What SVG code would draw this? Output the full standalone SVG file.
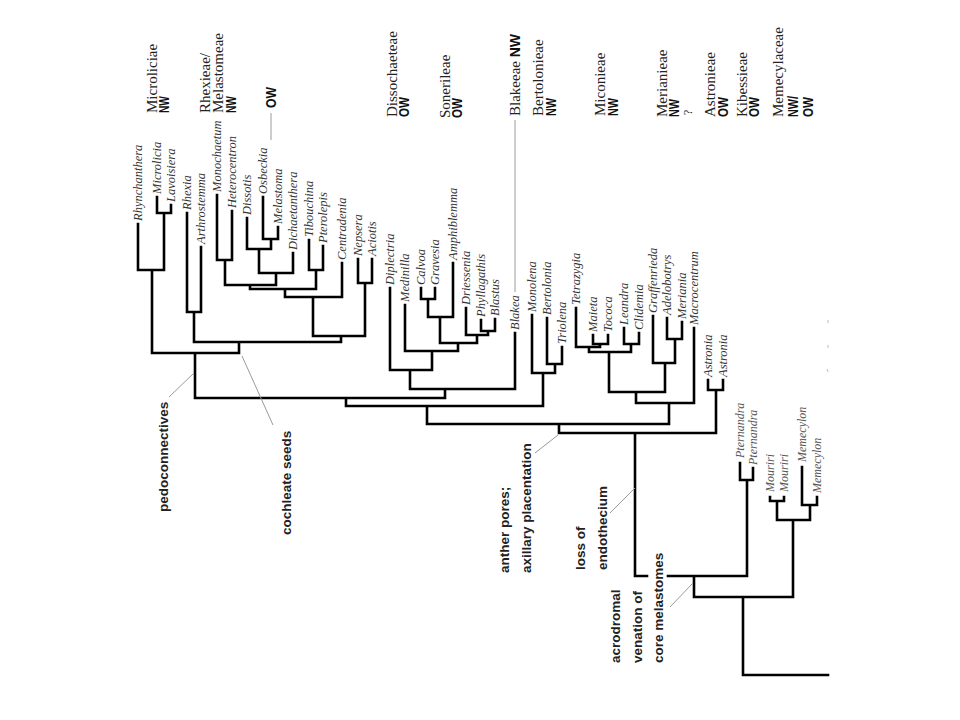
<svg xmlns="http://www.w3.org/2000/svg" width="960" height="720" viewBox="0 0 960 720">
<style>
.br{fill:none;stroke:#000;stroke-width:2.6;stroke-linecap:square;stroke-linejoin:miter}
.an{fill:none;stroke:#9a9a9a;stroke-width:1}
.tx{font-family:"Liberation Serif",serif;font-style:italic;font-size:12.5px;fill:#333}
.sm{font-size:12px;fill:#555}
.tr{font-family:"Liberation Serif",serif;font-size:15px;fill:#222}
.ge{font-family:"Liberation Sans",Arial,sans-serif;font-weight:bold;font-size:14px;fill:#111}
.ch{font-family:"Liberation Sans",Arial,sans-serif;font-weight:bold;font-size:13.5px;fill:#222}
</style>
<rect width="960" height="720" fill="#fff"/>
<g id="connectors">
<path class="br" d="M157 197V213H171V205 M138 224V270H164V213 M187 213V312H201V247 M217 195V260H232V211 M263 197V239H278V227 M247 218V249H271V239 M259 249V273H293V253 M225 260V285H276V273 M309 240V270H323V246 M250 285V289H316V270 M285 289V297H342V263 M358 259V283H372V259 M313 297V336H365V283 M194 312V342H341V336 M152 270V353H239V342 M421 288V299H435V288 M428 299V317H453V263 M481 320V331H495V319 M466 308V335H488V331 M440 317V343H477V335 M405 305V351H458V343 M390 288V370H432V351 M410 370V389H515V333 M195 353V398H445V389 M547 318V364H562V347 M532 315V373H555V364 M346 398V406H543V373 M593 335V344H608V335 M576 308V347H600V344 M624 328V344H639V333 M589 347V352H631V344 M667 318V339H682V322 M653 316V363H675V339 M609 352V392H665V363 M636 392V403H694V328 M427 406V424H669V403 M708 380V390H723V380 M559 424V433H716V390 M740 463V480H753V468 M635 433V576H647 M668 576H747V480 M770 497V501H784V497 M802 467V505H817V497 M777 501V520H810V505 M694 576V597H793V520 M743 597V675H828"/>
<path class="an" d="M515 120V292 M271 113V140 M194 373L169 397 M242 356L273 425 M558 435L535 453 M635 488L610 513 M693 583L670 607"/>
<path fill="none" stroke="#c8c8c8" stroke-width="1.2" d="M828 320v3 M828 345v3 M827 369l1 3"/>
</g>
<g id="taxa">
<g id="t-rhynchanthera"><text class="tx" transform="translate(141.5,221) rotate(-90)">Rhynchanthera</text></g>
<g id="t-microlicia"><text class="tx" transform="translate(160.5,194) rotate(-90)">Microlicia</text></g>
<g id="t-lavoisiera"><text class="tx" transform="translate(174.5,202) rotate(-90)">Lavoisiera</text></g>
<g id="t-rhexia"><text class="tx" transform="translate(190.5,210) rotate(-90)">Rhexia</text></g>
<g id="t-arthrostemma"><text class="tx" transform="translate(204.5,244) rotate(-90)">Arthrostemma</text></g>
<g id="t-monochaetum"><text class="tx" transform="translate(220.5,192) rotate(-90)">Monochaetum</text></g>
<g id="t-heterocentron"><text class="tx" transform="translate(235.5,208) rotate(-90)">Heterocentron</text></g>
<g id="t-dissotis"><text class="tx" transform="translate(250.5,215) rotate(-90)">Dissotis</text></g>
<g id="t-osbeckia"><text class="tx" transform="translate(266.5,194) rotate(-90)">Osbeckia</text></g>
<g id="t-melastoma"><text class="tx" transform="translate(281.5,224) rotate(-90)">Melastoma</text></g>
<g id="t-dichaetanthera"><text class="tx" transform="translate(296.5,250) rotate(-90)">Dichaetanthera</text></g>
<g id="t-tibouchina"><text class="tx" transform="translate(312.5,237) rotate(-90)">Tibouchina</text></g>
<g id="t-pterolepis"><text class="tx" transform="translate(326.5,243) rotate(-90)">Pterolepis</text></g>
<g id="t-centradenia"><text class="tx" transform="translate(345.5,260) rotate(-90)">Centradenia</text></g>
<g id="t-nepsera"><text class="tx" transform="translate(361.5,256) rotate(-90)">Nepsera</text></g>
<g id="t-aciotis"><text class="tx" transform="translate(375.5,256) rotate(-90)">Aciotis</text></g>
<g id="t-diplectria"><text class="tx" transform="translate(393.5,285) rotate(-90)">Diplectria</text></g>
<g id="t-medinilla"><text class="tx" transform="translate(408.5,302) rotate(-90)">Medinilla</text></g>
<g id="t-calvoa"><text class="tx" transform="translate(424.5,285) rotate(-90)">Calvoa</text></g>
<g id="t-gravesia"><text class="tx" transform="translate(438.5,285) rotate(-90)">Gravesia</text></g>
<g id="t-amphiblemma"><text class="tx" transform="translate(456.5,260) rotate(-90)">Amphiblemma</text></g>
<g id="t-driessenia"><text class="tx" transform="translate(469.5,305) rotate(-90)">Driessenia</text></g>
<g id="t-phyllagathis"><text class="tx" transform="translate(484.5,317) rotate(-90)">Phyllagathis</text></g>
<g id="t-blastus"><text class="tx" transform="translate(498.5,316) rotate(-90)">Blastus</text></g>
<g id="t-blakea"><text class="tx" transform="translate(518.5,330) rotate(-90)">Blakea</text></g>
<g id="t-monolena"><text class="tx" transform="translate(535.5,312) rotate(-90)">Monolena</text></g>
<g id="t-bertolonia"><text class="tx" transform="translate(550.5,315) rotate(-90)">Bertolonia</text></g>
<g id="t-triolena"><text class="tx" transform="translate(565.5,344) rotate(-90)">Triolena</text></g>
<g id="t-tetrazygia"><text class="tx" transform="translate(579.5,305) rotate(-90)">Tetrazygia</text></g>
<g id="t-maieta"><text class="tx" transform="translate(596.5,332) rotate(-90)">Maieta</text></g>
<g id="t-tococa"><text class="tx" transform="translate(611.5,332) rotate(-90)">Tococa</text></g>
<g id="t-leandra"><text class="tx" transform="translate(627.5,325) rotate(-90)">Leandra</text></g>
<g id="t-clidemia"><text class="tx" transform="translate(642.5,330) rotate(-90)">Clidemia</text></g>
<g id="t-graffenrieda"><text class="tx" transform="translate(656.5,313) rotate(-90)">Graffenrieda</text></g>
<g id="t-adelobotrys"><text class="tx" transform="translate(670.5,315) rotate(-90)">Adelobotrys</text></g>
<g id="t-meriania"><text class="tx" transform="translate(685.5,319) rotate(-90)">Meriania</text></g>
<g id="t-macrocentrum"><text class="tx" transform="translate(697.5,325) rotate(-90)">Macrocentrum</text></g>
<g id="t-astronia1"><text class="tx" transform="translate(711.5,377) rotate(-90)">Astronia</text></g>
<g id="t-astronia2"><text class="tx" transform="translate(726.5,377) rotate(-90)">Astronia</text></g>
<g id="t-pternandra1"><text class="tx sm" transform="translate(743.5,458) rotate(-90)">Pternandra</text></g>
<g id="t-pternandra2"><text class="tx sm" transform="translate(756.5,465) rotate(-90)">Pternandra</text></g>
<g id="t-mouriri1"><text class="tx sm" transform="translate(773.5,492) rotate(-90)">Mouriri</text></g>
<g id="t-mouriri2"><text class="tx sm" transform="translate(787.5,492) rotate(-90)">Mouriri</text></g>
<g id="t-memecylon1"><text class="tx sm" transform="translate(805.5,462) rotate(-90)">Memecylon</text></g>
<g id="t-memecylon2"><text class="tx sm" transform="translate(820.5,493) rotate(-90)">Memecylon</text></g>
</g>
<g id="tribes">
<g id="tr-microlicieae"><text class="tr" transform="translate(157,113) rotate(-90)">Microliciae</text><text class="ge" transform="translate(169,113) rotate(-90)" textLength="17" lengthAdjust="spacingAndGlyphs">NW</text></g>
<g id="tr-melastomeae"><text class="tr" transform="translate(210,113) rotate(-90)">Rhexieae/</text><text class="tr" transform="translate(223,113) rotate(-90)">Melastomeae</text><text class="ge" transform="translate(236,113) rotate(-90)" textLength="17" lengthAdjust="spacingAndGlyphs">NW</text><text class="ge" transform="translate(276,108) rotate(-90)" textLength="21" lengthAdjust="spacingAndGlyphs">OW</text></g>
<g id="tr-dissochaeteae"><text class="tr" transform="translate(397,117) rotate(-90)">Dissochaeteae</text><text class="ge" transform="translate(409,117) rotate(-90)" textLength="20" lengthAdjust="spacingAndGlyphs">OW</text></g>
<g id="tr-sonerileae"><text class="tr" transform="translate(450,118) rotate(-90)">Sonerileae</text><text class="ge" transform="translate(462,118) rotate(-90)" textLength="20" lengthAdjust="spacingAndGlyphs">OW</text></g>
<g id="tr-blakeeae"><text class="tr" transform="translate(520,116) rotate(-90)">Blakeeae <tspan style="font-family:'Liberation Sans',Arial,sans-serif;font-weight:bold;font-size:14px;fill:#111">NW</tspan></text></g>
<g id="tr-bertolonieae"><text class="tr" transform="translate(543,116) rotate(-90)">Bertolonieae</text><text class="ge" transform="translate(556,116) rotate(-90)" textLength="18" lengthAdjust="spacingAndGlyphs">NW</text></g>
<g id="tr-miconieae"><text class="tr" transform="translate(605,116) rotate(-90)">Miconieae</text><text class="ge" transform="translate(618,116) rotate(-90)" textLength="18" lengthAdjust="spacingAndGlyphs">NW</text></g>
<g id="tr-merianieae"><text class="tr" transform="translate(667,117) rotate(-90)">Merianieae</text><text class="ge" transform="translate(679,117) rotate(-90)" textLength="18" lengthAdjust="spacingAndGlyphs">NW</text><text class="tr" style="font-size:12px" transform="translate(692,115) rotate(-90)">?</text></g>
<g id="tr-astronieae"><text class="tr" transform="translate(715,117) rotate(-90)">Astronieae</text><text class="ge" transform="translate(728,117) rotate(-90)" textLength="20" lengthAdjust="spacingAndGlyphs">OW</text></g>
<g id="tr-kibessieae"><text class="tr" transform="translate(747,117) rotate(-90)">Kibessieae</text><text class="ge" transform="translate(759,117) rotate(-90)" textLength="20" lengthAdjust="spacingAndGlyphs">OW</text></g>
<g id="tr-memecylaceae"><text class="tr" transform="translate(783,117) rotate(-90)">Memecylaceae</text><text class="ge" transform="translate(798,117) rotate(-90)" textLength="21" lengthAdjust="spacingAndGlyphs">NW/</text><text class="ge" transform="translate(813,117) rotate(-90)" textLength="20" lengthAdjust="spacingAndGlyphs">OW</text></g>
</g>
<g id="characters">
<g id="c-pedoconnectives"><text class="ch" transform="translate(168,512) rotate(-90)">pedoconnectives</text></g>
<g id="c-cochleate"><text class="ch" transform="translate(291,535) rotate(-90)">cochleate seeds</text></g>
<g id="c-anther"><text class="ch" transform="translate(509,573) rotate(-90)">anther pores;</text><text class="ch" transform="translate(531,573) rotate(-90)">axillary placentation</text></g>
<g id="c-endothecium"><text class="ch" transform="translate(585,570) rotate(-90)">loss of</text><text class="ch" transform="translate(607,570) rotate(-90)">endothecium</text></g>
<g id="c-acrodromal"><text class="ch" transform="translate(620,663) rotate(-90)">acrodromal</text><text class="ch" transform="translate(642,663) rotate(-90)">venation of</text><text class="ch" transform="translate(663,663) rotate(-90)">core melastomes</text></g>
</g>
</svg>
